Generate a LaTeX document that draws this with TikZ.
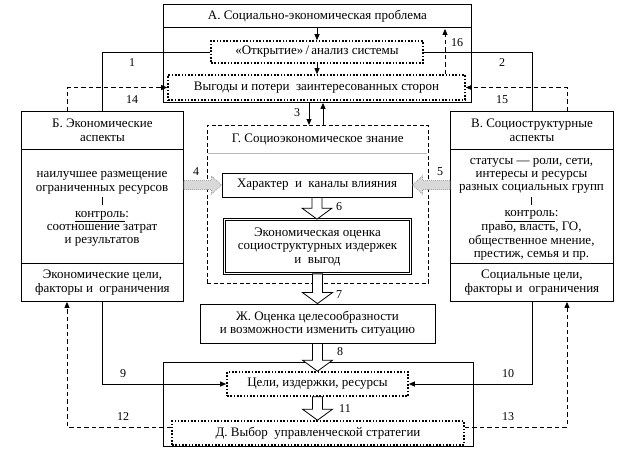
\documentclass[tikz,border=0pt]{standalone}
\usepackage{fontspec}
\setmainfont{Liberation Serif}
\usetikzlibrary{arrows.meta,calc}
\newcommand\fatdown[2]{\draw[fatarrow] let \p1=(#1), \p2=(#2) in
  (\x1-5pt,\y1) -- (\x1-5pt,\y2+11pt) -- (\x1-15pt,\y2+11pt) -- (\x1,\y2) --
  (\x1+15pt,\y2+11pt) -- (\x1+5pt,\y2+11pt) -- (\x1+5pt,\y1) -- cycle;}
\newcommand\fatright[2]{\draw[grayarrow] let \p1=(#1), \p2=(#2) in
  (\x1,\y2-4.5pt) -- (\x2-10pt,\y2-4.5pt) -- (\x2-10pt,\y2-9pt) -- (\x2,\y2) --
  (\x2-10pt,\y2+9pt) -- (\x2-10pt,\y2+4.5pt) -- (\x1,\y2+4.5pt) -- cycle;}
\newcommand\fatleft[2]{\draw[grayarrow] let \p1=(#1), \p2=(#2) in
  (\x1,\y2-4.5pt) -- (\x2+10pt,\y2-4.5pt) -- (\x2+10pt,\y2-9pt) -- (\x2,\y2) --
  (\x2+10pt,\y2+9pt) -- (\x2+10pt,\y2+4.5pt) -- (\x1,\y2+4.5pt) -- cycle;}
\begin{document}
\begin{tikzpicture}[x=1pt,y=-1pt,
  every node/.style={font=\fontsize{13}{13.5}\selectfont, align=center, inner sep=0pt},
  bodytext/.style={font=\fontsize{13}{13.1}\selectfont},
  solidbox/.style={draw, line width=0.9pt},
  dotbox/.style={draw, line width=1.6pt, dash pattern=on 1.6pt off 1.7pt},
  dashbox/.style={draw, line width=0.9pt, dash pattern=on 4pt off 2.5pt},
  arr/.style={line width=0.9pt, -{Triangle[length=6pt,width=5pt]}},
  plain/.style={line width=0.9pt},
  dasharr/.style={line width=0.9pt, dash pattern=on 4.5pt off 3pt, -{Triangle[length=6pt,width=5pt]}},
  fatarrow/.style={draw, line width=0.8pt, fill=white},
  grayarrow/.style={draw=gray!70, fill=gray!30, line width=0.8pt, dash pattern=on 1pt off 1pt},
  lbl/.style={font=\fontsize{12}{13}\selectfont}
]
\useasboundingbox (0,0) rectangle (636,456);
% ---- A
\node[solidbox, anchor=north west, minimum width=308pt, minimum height=98pt] (Abox) at (163,4) {};
\node[solidbox, anchor=north west, minimum width=308pt, minimum height=23pt] (Atitle) at (163,4) {А. Социально-экономическая проблема};
\node[dotbox, minimum width=212pt, minimum height=22pt] (Otk) at (317,52) {«Открытие»\,/\,анализ системы};
\node[dotbox, minimum width=297pt, minimum height=25pt] (Vyg) at (316.5,87.5) {Выгоды и потери\ \ заинтересованных сторон};
% ---- B
\node[solidbox, anchor=north west, minimum width=162pt, minimum height=38pt] (Btitle) at (21,111) {Б. Экономические\\аспекты};
\node[solidbox, anchor=north west, minimum width=162pt, minimum height=114pt] (Bbody) at (21,149) {};
\node[bodytext] (Btext) at (102,209) {наилучшее размещение\\ограниченных ресурсов\\\rule[-1pt]{0.9pt}{8pt}\\\underline{контроль}:\\соотношение затрат\\и результатов};
\node[solidbox, anchor=north west, minimum width=162pt, minimum height=38pt] (Bbot) at (21,263) {Экономические цели,\\факторы и\ \ ограничения};
% ---- V
\node[solidbox, anchor=north west, minimum width=163pt, minimum height=38pt] (Vtitle) at (450,111) {В. Социоструктурные\\аспекты};
\node[solidbox, anchor=north west, minimum width=163pt, minimum height=114pt] (Vbody) at (450,149) {};
\node[bodytext] (Vtext) at (531.5,209) {статусы — роли, сети,\\интересы и ресурсы\\разных социальных групп\\\rule[-1pt]{0.9pt}{8pt}\\\underline{контроль}:\\право, власть, ГО,\\общественное мнение,\\престиж, семья и пр.};
\node[solidbox, anchor=north west, minimum width=163pt, minimum height=38pt] (Vbot) at (450,263) {Социальные цели,\\факторы и\ \ ограничения};
% ---- G
\node[dashbox, anchor=north west, minimum width=221pt, minimum height=158pt] (G) at (207,125) {};
\node[anchor=north west, minimum width=221pt, minimum height=28pt] (Gtitle) at (207,125) {Г. Социоэкономическое знание};
\draw[gray!55, line width=1.6pt] ([xshift=1pt]Gtitle.south west) -- ([xshift=-1pt]Gtitle.south east);
\node[solidbox, minimum width=190pt, minimum height=24pt] (Har) at (317,185) {Характер\ \ и\ \ каналы влияния};
\node[draw, line width=0.7pt, double, double distance=1.8pt, minimum width=186pt, minimum height=54pt] (Eco) at (317.5,246.5) {Экономическая оценка\\социоструктурных издержек\\и\ \ выгод};
% ---- Zh
\node[solidbox, minimum width=235pt, minimum height=39pt] (Zh) at (317.5,323.5) {Ж. Оценка целесообразности\\и возможности изменить ситуацию};
% ---- D
\node[solidbox, anchor=north west, minimum width=310pt, minimum height=84pt] (Dbox) at (163,362) {};
\node[dotbox, fill=white, minimum width=181pt, minimum height=24pt] (Celi) at (317.5,384) {Цели,\ издержки,\ ресурсы};
\node[dotbox, fill=white, minimum width=292pt, minimum height=24pt] (Dd) at (318,433) {Д. Выбор\ \ управленческой стратегии};
% ---- helper coordinates
\coordinate (c14) at (67,0);
\coordinate (c15) at (567,0);
\coordinate (c16) at (445,0);
\coordinate (c3) at (309,0);
\coordinate (c3b) at (323,0);
% ---- connectors inside A
\draw[arr] (Otk.north |- Atitle.south) -- (Otk.north);
\draw[arr] (Otk.south) -- (Otk.south |- Vyg.north);
\draw[dasharr] (Vyg.north -| c16) -- ([yshift=-1pt]Atitle.south -| c16);
\node[lbl] (n16) at (457,43) {16};
% ---- 1, 2, 14, 15
\draw[plain] (Btitle.north) |- (Otk.west);
\node[lbl] (n1) at (132,63) {1};
\draw[plain] (Otk.east) -| (Vtitle.north);
\node[lbl] (n2) at (502,63) {2};
\draw[dasharr] (Btitle.north -| c14) |- (Vyg.west);
\node[lbl] (n14) at (132,100) {14};
\draw[dasharr] (Vtitle.north -| c15) |- (Vyg.east);
\node[lbl] (n15) at (502,100) {15};
% ---- 3 and back
\draw[arr] (Abox.south -| c3) -- (G.north -| c3);
\node[lbl] (n3) at (297,113) {3};
\draw[arr] (G.north -| c3b) -- (Abox.south -| c3b);
% ---- 4, 5
\fatright{Bbody.east |- Har.west}{Har.west}
\node[lbl] (n4) at (196,172) {4};
\fatleft{Vbody.west |- Har.east}{Har.east}
\node[lbl] (n5) at (440,172) {5};
% ---- 6, 7, 8, 11
\fatdown{Har.south}{Eco.north}
\node[lbl] (n6) at (339,207) {6};
\fatdown{Eco.south}{Eco.south |- Zh.north}
\node[lbl] (n7) at (339,295) {7};
\fatdown{Zh.south}{Zh.south |- Celi.north}
\node[lbl] (n8) at (340,352) {8};
\fatdown{Celi.south}{Celi.south |- Dd.north}
\node[lbl] (n11) at (345,409) {11};
% ---- 9, 10
\draw[arr] (Bbot.south) |- (Celi.west);
\node[lbl] (n9) at (123,374) {9};
\draw[arr] (Vbot.south) |- (Celi.east);
\node[lbl] (n10) at (508,374) {10};
% ---- 12, 13
\draw[dasharr] ([yshift=6pt]Dd.west) -| (Bbot.south -| c14);
\node[lbl] (n12) at (123,417) {12};
\draw[dasharr] ([yshift=6pt]Dd.east) -| (Vbot.south -| c15);
\node[lbl] (n13) at (508,417) {13};
\end{tikzpicture}
\end{document}
